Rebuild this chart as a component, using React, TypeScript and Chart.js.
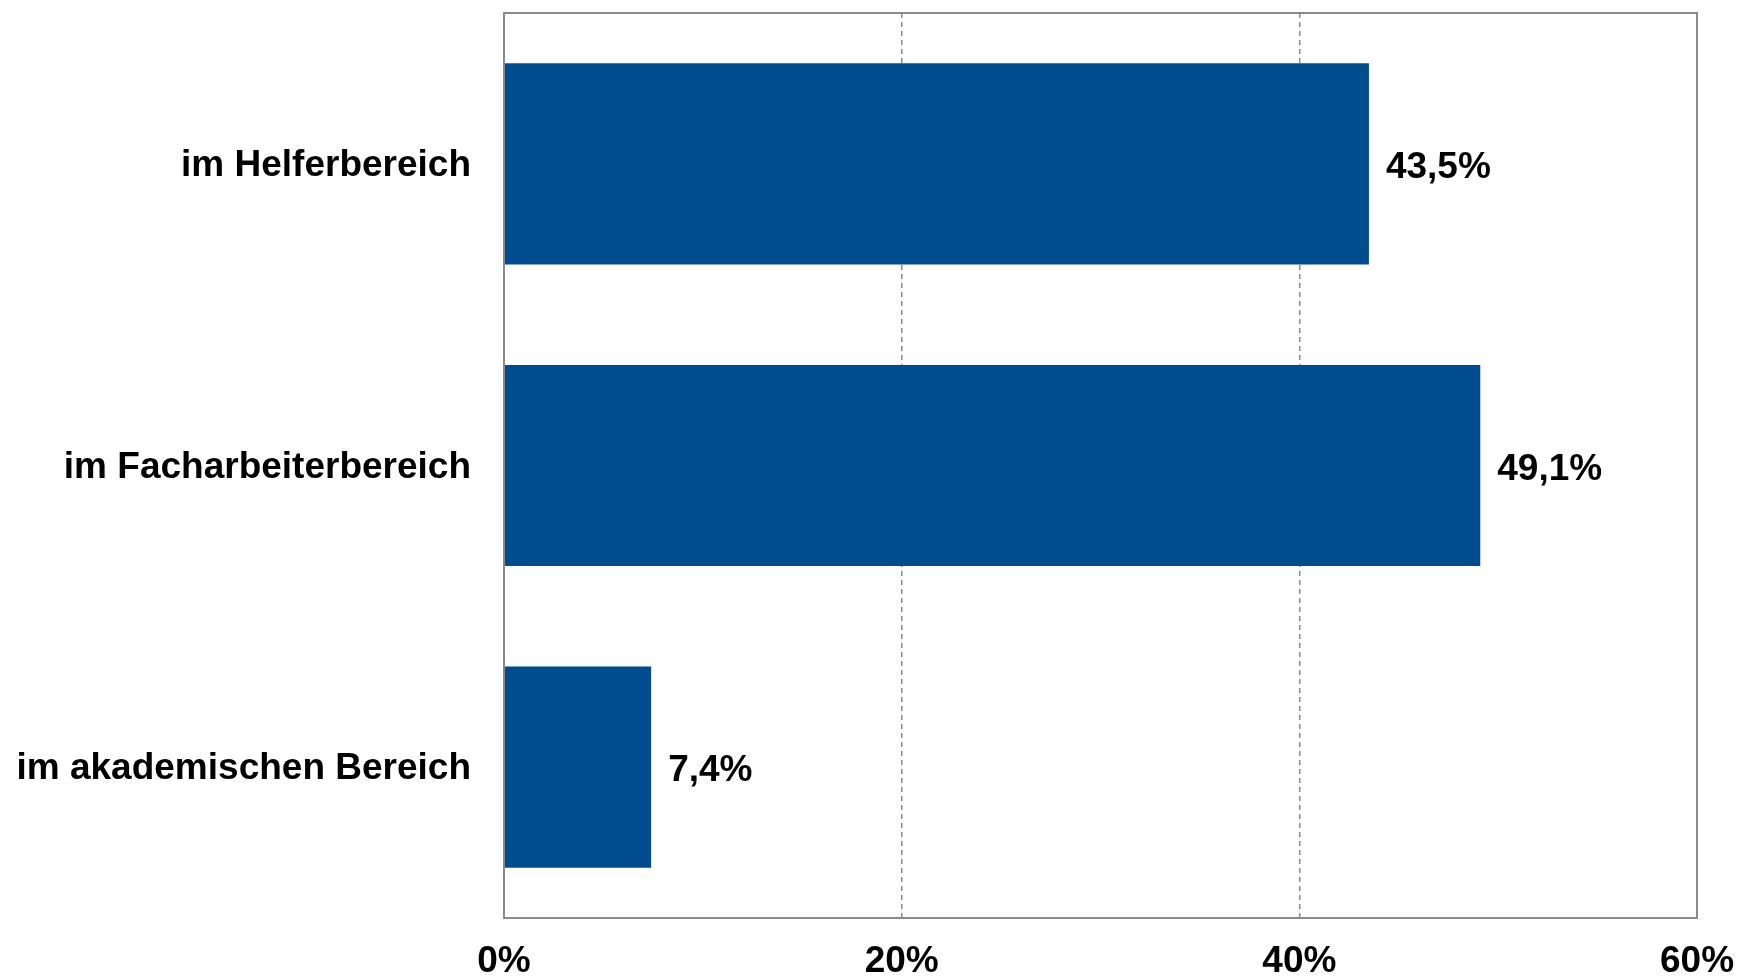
import React, { useEffect, useRef } from "react";
import { Chart, registerables } from "chart.js";

Chart.register(...registerables);

const categories = ["im Helferbereich", "im Facharbeiterbereich", "im akademischen Bereich"];
const values = [43.5, 49.1, 7.4];
const xTicks = [0, 20, 40, 60];

const FONT = "'Liberation Sans', Arial, Helvetica, sans-serif";
const BAR = "#004c8e";
const LINE = "#8a8a8a";

const fmt = (v: number) => v.toFixed(1).replace(".", ",") + "%";

const framePlugin = {
  id: "frame",
  afterDatasetsDraw(chart: any) {
    const { ctx, chartArea } = chart;
    ctx.save();
    ctx.strokeStyle = LINE;
    ctx.lineWidth = 2;
    ctx.setLineDash([]);
    ctx.strokeRect(chartArea.left, chartArea.top, chartArea.right - chartArea.left, chartArea.bottom - chartArea.top);
    ctx.restore();
  },
};

const valueLabels = {
  id: "valueLabels",
  afterDatasetsDraw(chart: any) {
    const { ctx } = chart;
    const meta = chart.getDatasetMeta(0);
    ctx.save();
    ctx.fillStyle = "#000";
    ctx.font = `bold 37px ${FONT}`;
    ctx.textAlign = "left";
    ctx.textBaseline = "middle";
    meta.data.forEach((bar: any, i: number) => {
      ctx.fillText(fmt(values[i]), bar.x + 17, bar.y + 4);
    });
    ctx.restore();
  },
};

export default function App() {
  const ref = useRef<HTMLCanvasElement | null>(null);
  useEffect(() => {
    if (!ref.current) return;
    const chart = new Chart(ref.current, {
      type: "bar",
      data: {
        labels: categories,
        datasets: [
          {
            data: values,
            backgroundColor: BAR,
            borderWidth: 0,
            categoryPercentage: 1,
            barPercentage: 0.667,
          },
        ],
      },
      options: {
        indexAxis: "y",
        animation: false,
        responsive: true,
        maintainAspectRatio: false,
        layout: { padding: { left: 0, top: 13, right: 44, bottom: 0 } },
        plugins: { legend: { display: false }, tooltip: { enabled: false } },
        scales: {
          x: {
            min: 0,
            max: 60,
            afterBuildTicks: (scale: any) => {
              scale.ticks = xTicks.map((v) => ({ value: v }));
            },
            afterFit: (scale: any) => {
              scale.height = 61;
              scale.paddingLeft = 0;
              scale.paddingRight = 0;
            },
            border: { display: true, color: LINE, width: 2, dash: [5, 4] },
            grid: {
              drawTicks: false,
              color: (c: any) => (c.tick && (c.tick.value === 0 || c.tick.value === 60) ? "rgba(0,0,0,0)" : LINE),
              lineWidth: 1.5,
            },
            ticks: {
              padding: 22,
              color: "#000",
              font: { family: FONT, size: 37, weight: "bold" },
              callback: (v: any) => v + "%",
              maxRotation: 0,
            },
          } as any,
          y: {
            afterFit: (scale: any) => {
              scale.width = 504;
              scale.paddingTop = 0;
              scale.paddingBottom = 0;
            },
            border: { display: true, color: LINE, width: 2 },
            grid: { display: false, drawTicks: false },
            ticks: {
              padding: 33,
              labelOffset: 2,
              color: "#000",
              font: { family: FONT, size: 37, weight: "bold" },
            },
          },
        },
      },
      plugins: [framePlugin, valueLabels],
    });
    return () => chart.destroy();
  }, []);
  return (
    <div style={{ position: "fixed", left: 0, top: 0, width: 1741, height: 979, background: "#fff" }}>
      <canvas ref={ref} />
    </div>
  );
}
